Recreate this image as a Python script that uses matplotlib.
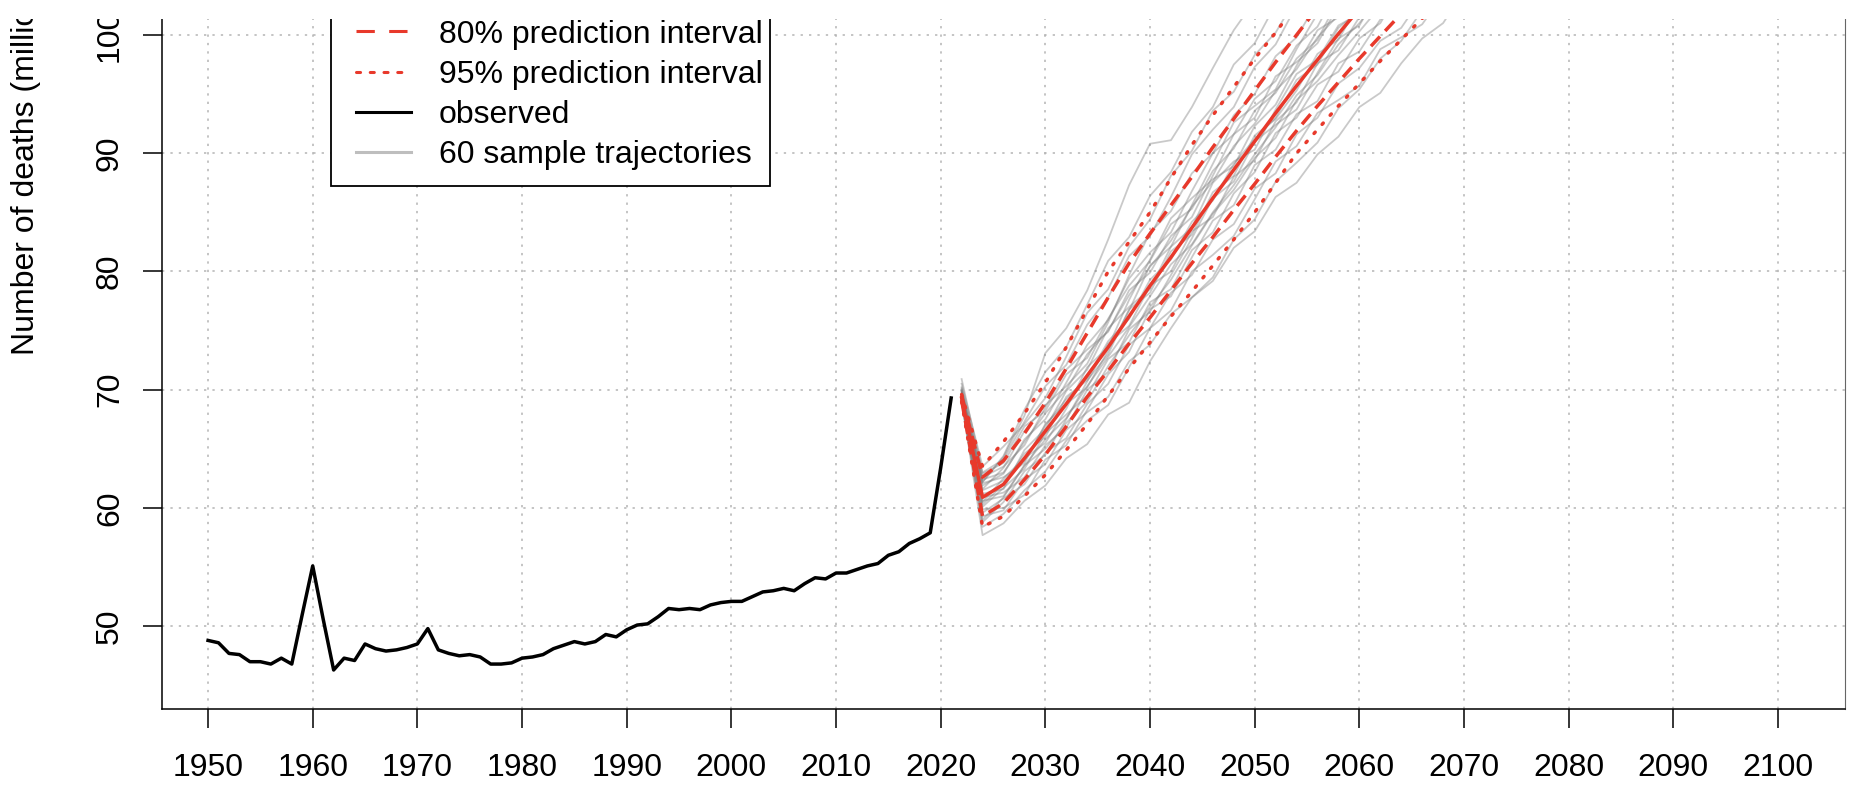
import matplotlib.pyplot as plt
from matplotlib.lines import Line2D
from matplotlib.patches import Rectangle

plt.rcParams['font.family'] = ['Liberation Sans', 'DejaVu Sans']

# observed deaths (millions), 1950-2021
obs_years = list(range(1950, 2022))
obs_deaths = [48.8, 48.6, 47.7, 47.6, 47.0, 47.0, 46.8, 47.3, 46.8, 51.0,
              55.1, 50.6, 46.3, 47.3, 47.1, 48.5, 48.1, 47.9, 48.0, 48.2,
              48.5, 49.8, 48.0, 47.7, 47.5, 47.6, 47.4, 46.8, 46.8, 46.9,
              47.3, 47.4, 47.6, 48.1, 48.4, 48.7, 48.5, 48.7, 49.3, 49.1,
              49.7, 50.1, 50.2, 50.8, 51.5, 51.4, 51.5, 51.4, 51.8, 52.0,
              52.1, 52.1, 52.5, 52.9, 53.0, 53.2, 53.0, 53.6, 54.1, 54.0,
              54.5, 54.5, 54.8, 55.1, 55.3, 56.0, 56.3, 57.0, 57.4, 57.9,
              63.4, 69.3]

# projection
proj_years = list(range(2022, 2071, 2))
median = [69.3, 60.9, 62.0, 64.2, 66.5, 68.8, 71.2, 73.6, 76.2, 78.8, 81.2, 83.7, 86.2,
          88.6, 91.0, 93.4, 95.7, 97.9, 100.1, 102.2, 104.3, 106.3, 108.3, 110.2, 112.1]
pi80_low = [69.1, 59.3, 60.4, 62.4, 64.5, 66.9, 69.4, 71.6, 73.9, 76.1, 78.4, 80.7, 82.9,
            85.2, 87.4, 89.7, 91.9, 94.0, 96.0, 98.0, 99.9, 101.8, 103.7, 105.6, 107.5]
pi80_high = [69.5, 62.6, 64.0, 66.3, 68.9, 71.8, 74.8, 77.8, 80.7, 83.2, 85.6, 88.0, 90.5,
             92.9, 95.3, 97.7, 100.0, 102.3, 104.5, 106.7, 108.9, 111.0, 113.1, 115.2, 117.3]
pi95_low = [69.0, 58.4, 59.3, 61.0, 62.8, 64.9, 67.1, 69.5, 71.8, 74.0, 76.2, 78.3, 80.5,
            82.7, 85.0, 87.5, 90.0, 92.0, 94.0, 95.9, 97.8, 99.6, 101.4, 103.2, 105.0]
pi95_high = [69.6, 63.5, 65.6, 68.0, 70.6, 73.6, 76.8, 80.0, 82.5, 85.0, 87.9, 90.7, 93.2,
             95.6, 98.0, 100.2, 102.6, 104.9, 107.2, 109.5, 111.8, 114.0, 116.2, 118.4, 120.6]

trajectories = [
    [69.9, 62.2, 64.3, 67.8, 73.1, 75.2, 78.4, 82.7, 87.3, 90.8, 91.1, 93.9, 97.2, 100.4, 102.9, 104.8, 106.5, 108.8, 110.6, 112.9, 114.8, 117.0, 119.1, 121.3, 123.2],
    [70.9, 63.0, 64.1, 67.3, 70.3, 72.1, 75.5, 77.8, 81.3, 83.0, 86.3, 89.9, 92.0, 93.9, 97.3, 99.2, 102.5, 104.2, 105.7, 108.3, 110.2, 113.1, 114.2, 117.0, 118.5],
    [69.0, 57.7, 58.7, 60.6, 61.9, 64.2, 65.4, 67.9, 68.9, 72.4, 75.2, 77.8, 79.5, 82.7, 84.4, 87.6, 89.2, 90.9, 93.8, 95.4, 98.0, 99.5, 102.1, 103.0, 105.3],
    [69.2, 59.3, 59.8, 62.4, 63.7, 66.6, 68.1, 69.4, 72.4, 73.8, 76.4, 77.8, 79.2, 82.0, 83.4, 86.3, 87.5, 89.9, 91.4, 93.9, 95.1, 97.6, 99.7, 101.0, 103.7],
    [69.4, 61.2, 61.6, 64.9, 66.7, 69.9, 71.7, 75.2, 77.0, 78.5, 82.1, 83.7, 87.5, 89.3, 90.3, 93.7, 96.7, 97.9, 100.8, 101.8, 105.0, 106.3, 109.5, 110.6, 112.9],
    [69.6, 61.9, 62.9, 65.8, 67.5, 70.6, 73.8, 75.9, 79.4, 81.6, 83.3, 86.8, 90.0, 91.6, 94.6, 96.1, 99.1, 100.7, 104.0, 105.4, 108.0, 109.3, 112.2, 113.8, 116.1],
    [69.1, 60.1, 61.7, 63.3, 66.3, 67.9, 69.5, 72.6, 74.0, 77.4, 78.5, 81.8, 83.3, 86.6, 88.4, 91.7, 93.0, 95.8, 96.9, 99.7, 101.0, 104.0, 105.2, 107.8, 109.3],
    [70.2, 62.6, 63.5, 65.3, 68.5, 71.7, 73.4, 74.9, 78.4, 79.9, 83.0, 84.6, 88.1, 91.6, 93.0, 96.5, 97.7, 99.3, 102.5, 104.0, 106.9, 108.2, 111.0, 112.2, 114.5],
    [69.3, 59.6, 60.8, 62.0, 64.7, 65.9, 68.8, 70.5, 73.8, 75.2, 78.2, 79.7, 82.7, 84.0, 87.0, 88.3, 91.6, 93.0, 95.9, 97.2, 99.5, 100.6, 103.2, 104.6, 107.3],
    [69.8, 61.6, 63.4, 66.5, 68.7, 70.3, 72.2, 75.7, 79.7, 83.3, 85.1, 88.3, 90.0, 93.2, 95.0, 98.2, 99.8, 102.8, 104.7, 107.2, 108.7, 111.2, 112.6, 115.4, 116.9],
    [69.0, 58.8, 60.5, 63.1, 64.5, 67.5, 70.7, 73.9, 75.4, 78.8, 80.0, 83.4, 84.6, 88.0, 89.4, 92.7, 94.3, 97.6, 98.7, 101.5, 102.8, 105.9, 107.1, 109.8, 110.9],
    [70.5, 63.5, 65.2, 67.1, 69.3, 72.8, 76.5, 78.5, 82.1, 84.4, 88.1, 90.2, 93.6, 95.2, 98.3, 100.2, 103.2, 104.9, 107.5, 109.0, 111.7, 113.1, 116.1, 117.8, 120.1],
    [69.4, 60.5, 62.5, 64.2, 65.5, 68.4, 71.9, 73.6, 77.6, 81.0, 84.5, 86.2, 87.8, 88.9, 92.3, 94.1, 97.4, 100.4, 101.5, 104.4, 105.4, 108.2, 109.5, 111.8, 112.9],
    [69.1, 58.4, 59.5, 61.5, 63.1, 65.7, 67.4, 68.7, 71.9, 75.2, 76.7, 80.0, 81.4, 83.0, 86.1, 89.3, 90.6, 93.4, 94.5, 95.7, 98.8, 99.8, 100.9, 103.4, 104.5],
    [69.7, 62.1, 62.6, 63.8, 67.1, 68.8, 70.2, 73.3, 76.7, 80.5, 82.1, 85.6, 89.1, 92.6, 94.0, 95.4, 98.8, 101.8, 102.9, 105.8, 107.3, 110.1, 111.4, 114.2, 115.3],
    [69.5, 60.9, 61.3, 62.6, 65.3, 66.8, 70.0, 71.5, 75.1, 76.6, 79.7, 82.8, 86.2, 87.6, 91.0, 92.4, 93.7, 96.8, 99.7, 100.8, 103.9, 105.2, 107.9, 109.0, 111.7],
    [69.9, 62.2, 64.4, 68.3, 71.5, 73.6, 77.2, 80.9, 82.9, 86.4, 88.4, 91.8, 93.9, 97.5, 99.3, 102.6, 104.2, 107.0, 108.5, 111.6, 113.2, 115.8, 117.3, 119.8, 121.3],
    [69.2, 59.9, 60.0, 61.1, 64.1, 65.3, 68.3, 71.3, 73.2, 76.8, 77.9, 81.2, 84.3, 85.6, 89.0, 90.3, 93.3, 94.4, 97.6, 98.6, 101.3, 102.5, 105.6, 106.6, 109.3],
    [69.5, 61.5, 62.3, 64.0, 67.0, 69.2, 71.0, 74.1, 76.0, 79.3, 81.0, 84.2, 86.0, 89.1, 91.2, 93.0, 96.2, 97.5, 100.6, 102.0, 104.8, 106.0, 108.9, 110.0, 112.6],
    [69.3, 60.3, 62.0, 64.6, 66.0, 69.4, 70.8, 73.0, 76.8, 78.2, 81.7, 83.1, 86.7, 88.1, 91.5, 92.9, 95.3, 98.4, 99.6, 102.7, 103.9, 106.8, 107.8, 110.7, 111.6],
    [69.8, 62.4, 63.0, 65.6, 68.0, 70.0, 73.0, 75.0, 78.0, 80.4, 82.6, 85.5, 87.6, 90.6, 92.5, 95.3, 97.1, 99.8, 101.7, 104.2, 106.1, 108.5, 110.4, 112.6, 114.6],
    [69.0, 59.0, 60.9, 63.6, 65.8, 67.6, 70.3, 72.8, 75.3, 77.9, 80.6, 82.3, 85.0, 87.3, 89.9, 92.2, 94.9, 96.6, 99.2, 101.0, 103.3, 105.1, 107.5, 109.2, 111.3],
    [70.1, 62.9, 63.8, 66.9, 68.2, 71.3, 72.7, 76.0, 78.8, 80.9, 84.0, 85.3, 88.5, 90.4, 93.6, 95.1, 98.0, 99.6, 103.0, 104.3, 107.4, 108.6, 111.5, 112.8, 115.5],
    [69.2, 60.6, 61.0, 63.6, 65.0, 67.2, 69.0, 72.0, 74.6, 77.0, 79.3, 82.2, 84.9, 86.9, 89.6, 91.3, 94.5, 96.1, 98.3, 100.3, 102.4, 104.6, 106.9, 108.8, 110.8],
]

legend_labels = ['80% prediction interval', '95% prediction interval',
                 'observed', '60 sample trajectories']

red = '#e8392b'
W, H = 1856, 788

fig = plt.figure(figsize=(W / 100, H / 100), dpi=100)
ax = fig.add_axes([162 / W, 79 / H, 1683 / W, 690 / H])

for traj in trajectories:
    ax.plot(proj_years, traj, color='#7a7a7a', alpha=0.4, lw=1.3, zorder=2)
ax.plot(obs_years, obs_deaths, color='black', lw=2.5, zorder=3,
        solid_joinstyle='round')
ax.plot(proj_years, median, color=red, lw=2.5, zorder=4)
for band in (pi80_low, pi80_high):
    ax.plot(proj_years, band, color=red, lw=2.5, dashes=(3.8, 2.2), zorder=4)
for band in (pi95_low, pi95_high):
    ax.plot(proj_years, band, color=red, lw=2.5, dashes=(0.5, 3.0),
            dash_capstyle='round', zorder=4)

ax.set_xlim(1945.6, 2106.4)
ax.set_ylim(43.0, 101.35)
ax.set_xticks(range(1950, 2101, 10))
ax.set_yticks(range(50, 101, 10))
ax.grid(True, color='#b4b4b4', lw=1.1, linestyle=(0, (1.5, 4)))
ax.set_axisbelow(True)
ax.spines['top'].set_visible(False)
ax.spines['right'].set_color('#666666')
for s in ('left', 'bottom'):
    ax.spines[s].set_linewidth(1.1)
ax.tick_params(length=13.7, width=1.1, labelsize=23, direction='out')
ax.tick_params(axis='x', pad=18)
ax.tick_params(axis='y', pad=13, labelrotation=90)
plt.setp(ax.get_yticklabels(), va='center')

# legend box (its top is cut off like in the original)
ax.add_patch(Rectangle(((331 - 162) / 1683, (709 - 186) / 690), (770 - 331) / 1683, 0.35,
                       transform=ax.transAxes, fc='white', ec='black', lw=1.3,
                       clip_on=False, zorder=5))
handles = [Line2D([], [], color=red, lw=2.2, dashes=(6, 4.7)),
           Line2D([], [], color=red, lw=2.2, dashes=(1.33, 3.17), dash_capstyle='round'),
           Line2D([], [], color='black', lw=2.2),
           Line2D([], [], color='#bebebe', lw=2.2)]
leg = ax.legend(handles, legend_labels, loc='center left',
                bbox_to_anchor=((356 - 162) / 1683, (709 - 95) / 690),
                frameon=False, fontsize=23, borderpad=0, borderaxespad=0,
                handlelength=1.72, handletextpad=0.88, labelspacing=0.32)
leg.set_zorder(6)

fig.text(26 / W, (H - 355) / H, 'Number of deaths (millions)', rotation=90,
         ha='center', va='bottom', fontsize=23)

# top strip of the picture is blank
fig.add_artist(Rectangle((0, 1 - 19 / H), 1, 19 / H + 0.01, transform=fig.transFigure,
                         fc='white', ec='none', zorder=10))

fig.savefig('out.png', dpi=100)
